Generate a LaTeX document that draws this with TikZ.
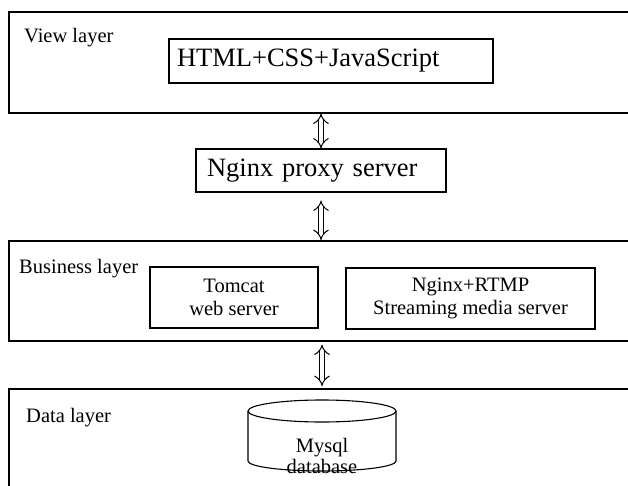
\documentclass[tikz,border=0pt]{standalone}
\usepackage{fontspec}
\setmainfont{Liberation Serif}
\usetikzlibrary{arrows.meta}
\begin{document}
\begin{tikzpicture}[x=1pt,y=-1pt,
        layerbox/.style={draw,line width=1.6pt,anchor=north west,inner sep=0pt},
        inbox/.style={draw,line width=1.1pt,inner sep=0pt,align=center,
            font=\fontsize{20.5}{23.5}\selectfont},
        bigbox/.style={inbox,align=left,inner xsep=#1,
            font=\fontsize{26.5}{30}\selectfont},
        layername/.style={anchor=base west,inner sep=0pt,
            font=\fontsize{20.5}{23.5}\selectfont},
        link/.style={double,double distance=4.5pt,line width=1pt,{Implies}-{Implies}},
        dbline/.style={line width=1.1pt}]
    \useasboundingbox (0,0) rectangle (628,486);
    \clip (0,0) rectangle (628,486);

    % layers
    \node[layerbox,minimum width=640pt,minimum height=101pt] (view) at (8,11) {};
    \node[layerbox,minimum width=640pt,minimum height=100pt] (business) at (8,240) {};
    \node[layerbox,minimum width=640pt,minimum height=120pt] (data) at (8,388) {};

    \node[layername] (viewname) at (24,43) {View layer};
    \node[layername] (businessname) at (19,273) {Business layer};
    \node[layername] (dataname) at (26,422) {Data layer};

    % boxes
    \node[bigbox=8pt,text width=308pt,minimum height=44pt] (html) at (331,61) {HTML+CSS+JavaScript};
    \node[bigbox=11pt,text width=228pt,minimum height=43pt] (nginx) at (321,170.5) {Nginx proxy server};
    \node[inbox,minimum width=168pt,minimum height=61pt] (tomcat) at (234,297.5) {Tomcat\\web server};
    \node[inbox,minimum width=249pt,minimum height=61pt] (rtmp) at (470.5,298.5) {Nginx+RTMP\\Streaming media server};

    % database
    \coordinate (db) at (322,435);
    \draw[dbline] (322,411) ellipse [x radius=74pt,y radius=11pt];
    \draw[dbline] (248,411) -- (248,461)
        arc[start angle=180,end angle=360,x radius=74pt,y radius=10pt] -- (396,411);
    \node[inner sep=0pt,align=center,font=\fontsize{20.5}{21}\selectfont] (mysql) at (322,456) {Mysql\\database};

    % links
    \draw[link] (nginx.north |- view.south) -- (nginx.north);
    \draw[link] ([yshift=-8pt]nginx.south) -- (nginx.south |- business.north);
    \draw[link] ([yshift=-3pt]business.south -| db) -- ([yshift=2pt]data.north -| db);
\end{tikzpicture}
\end{document}
